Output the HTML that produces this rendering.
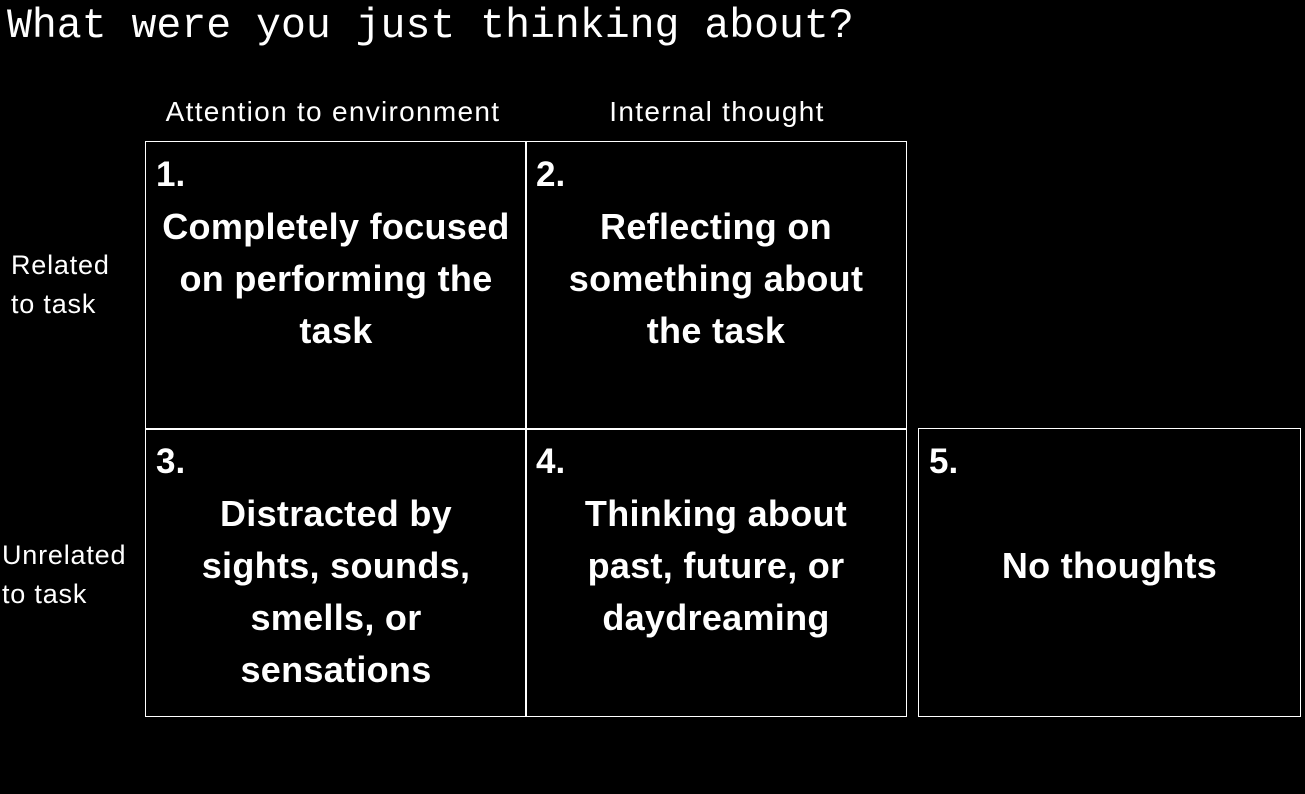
<!DOCTYPE html>
<html><head><meta charset="utf-8"><style>
body{margin:0;width:1305px;height:794px;background:#000;color:#fff;position:relative;overflow:hidden;font-family:"Liberation Sans",sans-serif}
.a{position:absolute}
.t{left:7px;top:2px;font-family:"Liberation Mono",monospace;font-size:41.5px;line-height:50px;white-space:nowrap}
.h{font-size:28px;letter-spacing:1.3px;line-height:30px;white-space:nowrap;text-align:center}
.l{font-size:27px;letter-spacing:0.8px;line-height:39px;white-space:nowrap}
.box{position:absolute;border:1.5px solid #fff;box-sizing:border-box}
.n{position:absolute;left:10px;top:13px;font-weight:bold;font-size:35px;line-height:40px}
.c{position:absolute;left:0;right:0;text-align:center;font-weight:bold;font-size:36px;letter-spacing:0.3px;line-height:52px;white-space:nowrap}
</style></head><body>
<div class="a t">What were you just thinking about?</div>
<div class="a h" style="left:146px;width:374px;top:97px">Attention to environment</div>
<div class="a h" style="left:526px;width:382px;top:97px">Internal thought</div>
<div class="a l" style="left:11px;top:246px">Related<br>to task</div>
<div class="a l" style="left:2px;top:536px">Unrelated<br>to task</div>
<div class="box" style="left:145px;top:141px;width:382px;height:289px"><div class="n">1.</div><div class="c" style="top:59px">Completely focused<br>on performing the<br>task</div></div>
<div class="box" style="left:525px;top:141px;width:382px;height:289px"><div class="n">2.</div><div class="c" style="top:59px">Reflecting on<br>something about<br>the task</div></div>
<div class="box" style="left:145px;top:428px;width:382px;height:289px"><div class="n">3.</div><div class="c" style="top:59px">Distracted by<br>sights, sounds,<br>smells, or<br>sensations</div></div>
<div class="box" style="left:525px;top:428px;width:382px;height:289px"><div class="n">4.</div><div class="c" style="top:59px">Thinking about<br>past, future, or<br>daydreaming</div></div>
<div class="box" style="left:918px;top:428px;width:383px;height:289px"><div class="n">5.</div><div class="c" style="top:111px">No thoughts</div></div>
</body></html>
